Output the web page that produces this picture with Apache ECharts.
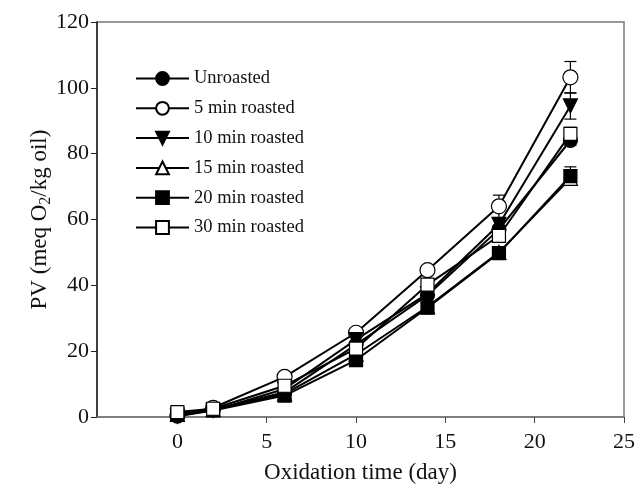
<!DOCTYPE html>
<html lang="en">
<head>
    <meta charset="UTF-8">
    <title>PV</title>
    <script src="https://cdn.jsdelivr.net/npm/echarts@6/dist/echarts.min.js"></script>
    <style>
        * {
            margin: 0;
            padding: 0
        }

        #main {
            width: 635px;
            height: 484px;
        }
    </style>
</head>
<body>
<div id="main"></div>
<script type="text/javascript">
    /*---------- data ----------*/
    var days = [0, 2, 6, 10, 14, 18, 22];
    var xTicks = [0, 5, 10, 15, 20, 25];

    var unroasted = [0.3, 2.2, 7.5, 22.0, 37.0, 57.0, 84.0];
    var min5 = [0.5, 2.8, 12.2, 25.6, 44.6, 64.0, 103.2];
    var min10 = [0.2, 2.0, 8.5, 23.5, 37.5, 58.5, 94.5];
    var min15 = [0.8, 2.3, 7.0, 19.0, 33.5, 50.0, 72.5];
    var min20 = [0.9, 2.0, 6.5, 17.3, 33.2, 49.8, 73.2];
    var min30 = [1.5, 2.5, 9.5, 20.8, 40.2, 55.0, 86.0];

    // standard deviations (error bars)
    var errUnroasted = [0.2, 0.3, 0.5, 0.8, 1.0, 1.2, 1.5];
    var err5 = [0.2, 0.3, 0.6, 0.8, 1.2, 3.4, 4.8];
    var err10 = [0.2, 0.3, 0.5, 0.8, 1.0, 1.5, 4.0];
    var err15 = [0.2, 0.3, 0.5, 0.8, 1.0, 1.2, 2.0];
    var err20 = [0.2, 0.3, 0.5, 0.8, 1.0, 1.2, 2.8];
    var err30 = [0.2, 0.3, 0.5, 0.8, 1.0, 1.2, 2.0];

    var FONT = '"Liberation Serif", "Times New Roman", serif';

    function lineSeries(name, values, symbol, fill, rotate, size) {
        return {
            name: name,
            type: 'line',
            data: days.map(function (d, i) { return [d, values[i]]; }),
            symbol: symbol,
            symbolSize: size,
            symbolRotate: rotate,
            showAllSymbol: true,
            z: 3,
            lineStyle: {color: '#000', width: 2},
            itemStyle: {color: fill, borderColor: '#000', borderWidth: 1.2, opacity: 1}
        };
    }

    function errorSeries(values, errs) {
        return {
            type: 'custom',
            silent: true,
            z: 2,
            data: days.map(function (d, i) { return [d, values[i] - errs[i], values[i] + errs[i]]; }),
            encode: {x: 0, y: [1, 2]},
            renderItem: function (params, api) {
                var x = api.value(0);
                var lo = api.coord([x, api.value(1)]);
                var hi = api.coord([x, api.value(2)]);
                var w = 6;
                var st = {stroke: '#000', lineWidth: 1.2};
                return {
                    type: 'group',
                    children: [
                        {type: 'line', shape: {x1: lo[0], y1: lo[1], x2: hi[0], y2: hi[1]}, style: st},
                        {type: 'line', shape: {x1: hi[0] - w, y1: hi[1], x2: hi[0] + w, y2: hi[1]}, style: st},
                        {type: 'line', shape: {x1: lo[0] - w, y1: lo[1], x2: lo[0] + w, y2: lo[1]}, style: st}
                    ]
                };
            }
        };
    }

    var chart = echarts.init(document.getElementById('main'));
    chart.setOption({
        animation: false,
        backgroundColor: '#fff',
        textStyle: {fontFamily: FONT},
        grid: {
            left: 97, right: 11, top: 22, bottom: 67,
            outerBoundsMode: 'none',
            show: true, borderColor: '#777', borderWidth: 1.5
        },
        legend: {
            orient: 'vertical',
            left: 135,
            top: 69,
            padding: 0,
            itemWidth: 53,
            itemHeight: 16,
            itemGap: 10.8,
            data: ['Unroasted', '5 min roasted', '10 min roasted', '15 min roasted', '20 min roasted', '30 min roasted'],
            textStyle: {fontFamily: FONT, fontSize: 18.5, color: '#111'}
        },
        xAxis: {
            type: 'value',
            min: -4.5,
            max: 25,
            name: 'Oxidation time (day)',
            nameLocation: 'middle',
            nameGap: 44,
            nameMoveOverlap: false,
            nameTextStyle: {fontFamily: FONT, fontSize: 23, color: '#111'},
            axisLine: {onZero: false, lineStyle: {color: '#777', width: 1.5}},
            axisTick: {show: true, inside: false, length: 6, customValues: xTicks, lineStyle: {color: '#444'}},
            axisLabel: {customValues: xTicks, fontFamily: FONT, fontSize: 22, color: '#111', margin: 14},
            splitLine: {show: false}
        },
        yAxis: {
            type: 'value',
            min: 0,
            max: 120,
            interval: 20,
            name: 'PV (meq O{sub|2}/kg oil)',
            nameLocation: 'middle',
            nameGap: 43,
            nameMoveOverlap: false,
            nameTextStyle: {
                fontFamily: FONT, fontSize: 23, color: '#111', lineHeight: 28,
                rich: {sub: {fontFamily: FONT, fontSize: 16, lineHeight: 16, verticalAlign: 'bottom', color: '#111'}}
            },
            axisLine: {show: true, onZero: false, lineStyle: {color: '#222', width: 1.5}},
            axisTick: {show: true, inside: false, length: 6, lineStyle: {color: '#222'}},
            axisLabel: {fontFamily: FONT, fontSize: 22, color: '#111', margin: 8},
            splitLine: {show: false}
        },
        series: [
            errorSeries(unroasted, errUnroasted),
            errorSeries(min5, err5),
            errorSeries(min10, err10),
            errorSeries(min15, err15),
            errorSeries(min20, err20),
            errorSeries(min30, err30),
            lineSeries('Unroasted', unroasted, 'circle', '#000', 0, 14),
            lineSeries('5 min roasted', min5, 'circle', '#fff', 0, 15),
            lineSeries('10 min roasted', min10, 'triangle', '#000', 180, 14),
            lineSeries('15 min roasted', min15, 'triangle', '#fff', 0, 14),
            lineSeries('20 min roasted', min20, 'rect', '#000', 0, 13),
            lineSeries('30 min roasted', min30, 'rect', '#fff', 0, 13)
        ]
    });
</script>

</body>
</html>
